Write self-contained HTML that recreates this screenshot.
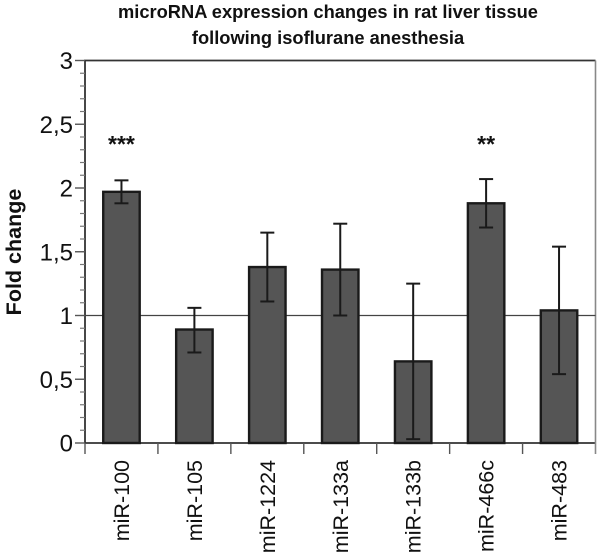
<!DOCTYPE html>
<html>
<head>
<meta charset="utf-8">
<style>
html,body{margin:0;padding:0;background:#fff;width:600px;height:555px;overflow:hidden}
svg{display:block;font-family:"Liberation Sans",sans-serif;filter:blur(0.3px)}
</style>
</head>
<body>
<svg id="chart" width="600" height="555" viewBox="0 0 600 555" xmlns="http://www.w3.org/2000/svg">
<text x="328" y="18" text-anchor="middle" font-size="18.3" font-weight="bold" fill="#111">microRNA expression changes in rat liver tissue</text>
<text x="328" y="44" text-anchor="middle" font-size="18.3" font-weight="bold" fill="#111">following isoflurane anesthesia</text>
<text transform="translate(21,252) rotate(-90)" text-anchor="middle" font-size="21.5" font-weight="bold" fill="#111">Fold change</text>
<g id="plot"></g>
</svg>
<script>
const categories = ['miR-100','miR-105','miR-1224','miR-133a','miR-133b','miR-466c','miR-483'];
const foldChange = [1.97,0.89,1.38,1.36,0.64,1.88,1.04];
const errorHigh = [2.06,1.06,1.65,1.72,1.25,2.07,1.54];
const errorLow = [1.88,0.71,1.11,1.00,0.03,1.69,0.54];
const significance = ['***','','','','','**',''];
const yTicks = [0,0.5,1,1.5,2,2.5,3];
const yTickLabels = ['0','0,5','1','1,5','2','2,5','3'];
const yMinorTicks = [0.1,0.2,0.3,0.4,0.6,0.7,0.8,0.9,1.1,1.2,1.3,1.4,1.6,1.7,1.8,1.9,2.1,2.2,2.3,2.4,2.6,2.7,2.8,2.9];
const referenceLevel = 1;

const plotLeft = 85, plotRight = 595.5, plotTop = 60.5, plotBottom = 443;
const yMax = 3;
const yScale = v => plotBottom - (v / yMax) * (plotBottom - plotTop);
const band = (plotRight - plotLeft) / categories.length;
const xEdge = i => plotLeft + i * band;
const xCenter = i => xEdge(i) + band / 2;
const barWidth = band * 0.5;

const plot = document.getElementById('plot');
const NS = 'http://www.w3.org/2000/svg';
function make(tag, attrs, text) {
  const el = document.createElementNS(NS, tag);
  for (const k in attrs) el.setAttribute(k, attrs[k]);
  if (text !== undefined) el.textContent = text;
  plot.appendChild(el);
  return el;
}
function segment(x1, y1, x2, y2, stroke, width) {
  return make('line', {x1, y1, x2, y2, stroke, 'stroke-width': width});
}

// frame
const frame = make('path', {d: 'M' + plotLeft + ' ' + plotBottom + 'V' + plotTop + 'H' + plotRight + 'M' + plotLeft + ' ' + plotBottom + 'H' + plotRight, fill: 'none', stroke: '#333', 'stroke-width': 1.8});


const rightEdge = segment(plotRight, plotTop, plotRight, plotBottom + 11, '#888', 1.6);



// reference line
const ref = segment(plotLeft, yScale(referenceLevel), plotRight, yScale(referenceLevel), '#444', 1.2);



// y ticks
yMinorTicks.forEach(v => {
  const t = segment(plotLeft - 5, yScale(v), plotLeft, yScale(v), '#777', 1.2);
  
  
});
yTicks.forEach((v, i) => {
  const t = segment(plotLeft - 10, yScale(v), plotLeft, yScale(v), '#555', 1.4);
  
  
  const l = make('text', {x: plotLeft - 12, y: yScale(v) + 8.5, 'text-anchor': 'end', 'font-size': 24, fill: '#111'}, yTickLabels[i]);
  
  
});

// x ticks
for (let i = 0; i < categories.length; i++) {
  const t = segment(xEdge(i), plotBottom, xEdge(i), plotBottom + 11, '#555', 1.4);
  
  
}

// bars, errors, labels
categories.forEach((c, i) => {
  const cx = xCenter(i);
  const bar = make('rect', {x: cx - barWidth / 2, y: yScale(foldChange[i]), width: barWidth, height: plotBottom - yScale(foldChange[i]), fill: '#555', stroke: '#1a1a1a', 'stroke-width': 2.4});
  
  

  const stem = segment(cx, yScale(errorHigh[i]), cx, yScale(errorLow[i]), '#1a1a1a', 2);
  
  
  const capH = segment(cx - 7, yScale(errorHigh[i]), cx + 7, yScale(errorHigh[i]), '#1a1a1a', 2);
  
  
  const capL = segment(cx - 7, yScale(errorLow[i]), cx + 7, yScale(errorLow[i]), '#1a1a1a', 2);
  
  

  const lab = make('text', {transform: 'translate(' + (cx + 7.5) + ',' + (plotBottom + 17) + ') rotate(-90)', 'text-anchor': 'end', 'font-size': 21.5, fill: '#111'}, c);
  
  

  if (significance[i]) {
    const s = make('text', {x: cx, y: 152, 'text-anchor': 'middle', 'font-size': 23, 'font-weight': 'bold', fill: '#111'}, significance[i]);
    
    
  }
});
</script>
</body>
</html>
